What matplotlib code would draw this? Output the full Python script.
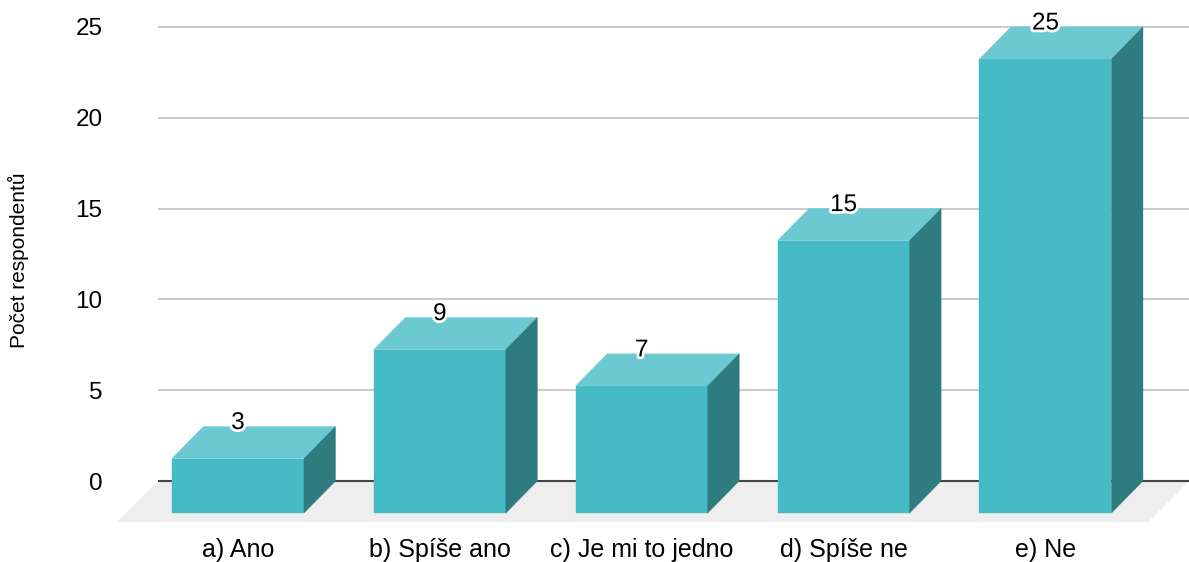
import matplotlib.pyplot as plt
import matplotlib.patheffects as pe
from matplotlib.patches import Polygon

plt.rcParams['font.family'] = ['Liberation Sans', 'DejaVu Sans']

# data
categories = ['a) Ano', 'b) Spíše ano', 'c) Je mi to jedno', 'd) Spíše ne', 'e) Ne']
counts = [3, 9, 7, 15, 25]
y_ticks = [0, 5, 10, 15, 20, 25]

front_col = '#47bbc5'
top_col = '#6cc9d1'
side_col = '#2e7c80'
floor_col = '#eeeeee'

W, H = 1189, 562
fig = plt.figure(figsize=(W / 100, H / 100), dpi=100)

# axes box in pixels
left_px, right_px = 158, 1189
bot_px, top_px = 524.6, 16.1
ax = fig.add_axes([left_px / W, 1 - bot_px / H, (right_px - left_px) / W, (bot_px - top_px) / H])
xlim = (-0.552, 4.555)
ylim = (-2.4, 25.6)
ax.set_xlim(*xlim)
ax.set_ylim(*ylim)

# pixel -> data units
ux = (xlim[1] - xlim[0]) / (right_px - left_px)
uy = (ylim[1] - ylim[0]) / (bot_px - top_px)

bar_w = 132 * ux
dx, dy = 31.5 * ux, 32 * uy          # bar depth
fdx, fdy = 41 * ux, 41 * uy          # floor depth

for s in ax.spines.values():
    s.set_visible(False)

# gridlines
for t in y_ticks[1:]:
    ax.axhline(t, color='#cccccc', lw=1.5, zorder=0)

# floor
floor = Polygon([(xlim[0], 0), (xlim[1], 0), (xlim[1] - fdx, -fdy), (xlim[0] - fdx, -fdy)],
                closed=True, facecolor=floor_col, edgecolor='none', zorder=1, clip_on=False)
ax.add_patch(floor)
ax.axhline(0, color='#444444', lw=1.5, zorder=2)

for i, v in enumerate(counts):
    x0, x1 = i - bar_w / 2, i + bar_w / 2
    front = Polygon([(x0 - dx, -dy), (x1 - dx, -dy), (x1 - dx, v - dy), (x0 - dx, v - dy)],
                    facecolor=front_col, edgecolor=front_col, lw=0.3, zorder=3)
    top = Polygon([(x0 - dx, v - dy), (x1 - dx, v - dy), (x1, v), (x0, v)],
                  facecolor=top_col, edgecolor=top_col, lw=0.3, zorder=3)
    side = Polygon([(x1 - dx, -dy), (x1, 0), (x1, v), (x1 - dx, v - dy)],
                   facecolor=side_col, edgecolor=side_col, lw=0.3, zorder=3)
    for p in (front, top, side):
        ax.add_patch(p)
    ax.text(i - dx, v - 2.5 * uy, str(v), ha='center', va='baseline', fontsize=17.5,
            color='#000000', zorder=5,
            path_effects=[pe.withStroke(linewidth=4, foreground='white')])

ax.set_xticks([i - dx for i in range(len(categories))])
ax.set_xticklabels(categories, fontsize=18, color='#000000')
ax.set_yticks(y_ticks)
ax.set_yticklabels([str(t) for t in y_ticks], fontsize=17.5, color='#000000')
ax.tick_params(axis='x', length=0, pad=10)
ax.tick_params(axis='y', length=0, pad=40)

fig.text(18 / W, 1 - 260 / H, 'Počet respondentů', rotation=90, ha='center', va='center',
         fontsize=15, color='#000000')

fig.savefig('out.png', dpi=100)
